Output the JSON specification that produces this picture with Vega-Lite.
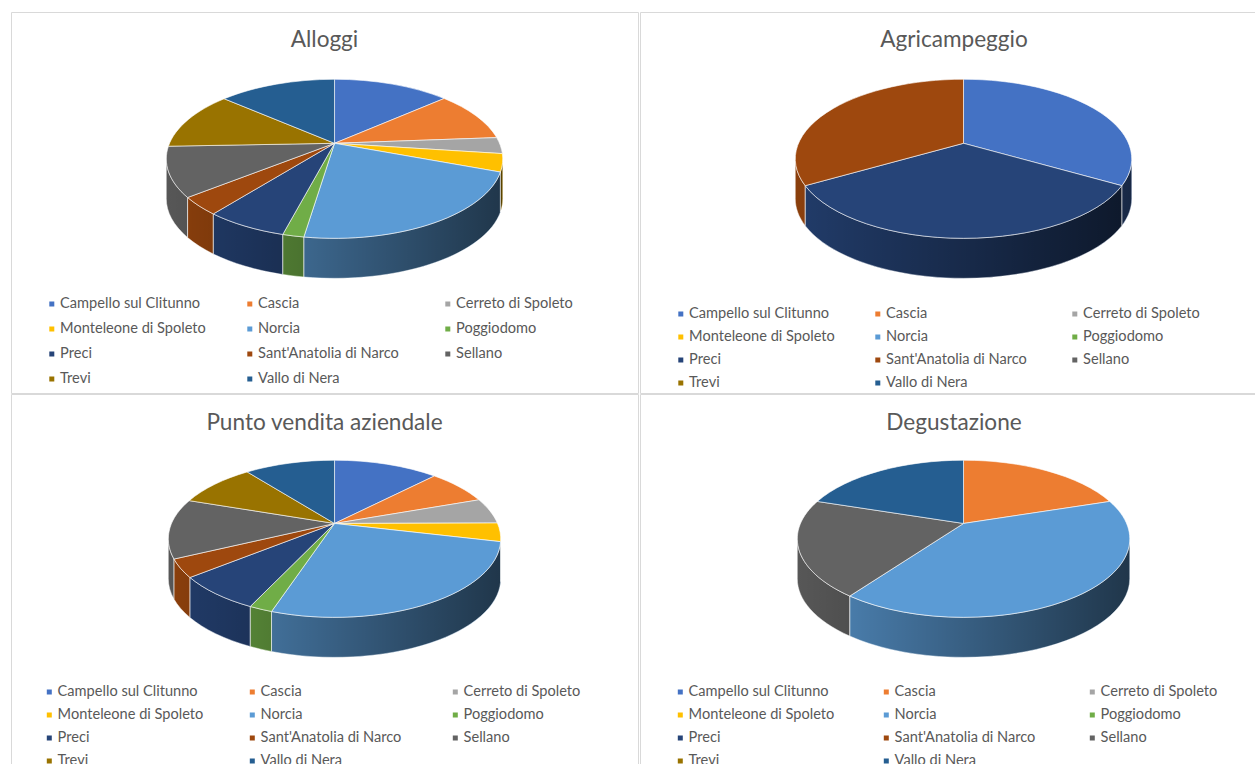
{
"$schema":"https://vega.github.io/schema/vega-lite/v6.json",
"background":"white",
"padding":{"left":10,"top":11,"right":0,"bottom":0},
"config":{
 "font":"Lato",
 "view":{"stroke":"#d9d9d9","strokeWidth":1},
 "title":{"fontSize":22.6,"fontWeight":"normal","color":"#595959","anchor":"middle","offset":-40,"frame":"group"},
 "legend":{"symbolType":"square","symbolSize":25,"labelFontSize":14.6,"labelColor":"#595959","labelLimit":300,"labelOffset":1,"gridAlign":"all","columns":3,"direction":"horizontal","title":null,"symbolStrokeWidth":0,"clipHeight":14}
},
"data":{"values":[
{"panel":"Alloggi","comune":"Campello sul Clitunno","value":13.5},
{"panel":"Alloggi","comune":"Cascia","value":10.3},
{"panel":"Alloggi","comune":"Cerreto di Spoleto","value":3.3},
{"panel":"Alloggi","comune":"Monteleone di Spoleto","value":3.6},
{"panel":"Alloggi","comune":"Norcia","value":21.7},
{"panel":"Alloggi","comune":"Poggiodomo","value":1.7},
{"panel":"Alloggi","comune":"Preci","value":6.6},
{"panel":"Alloggi","comune":"Sant'Anatolia di Narco","value":3.6},
{"panel":"Alloggi","comune":"Sellano","value":10.1},
{"panel":"Alloggi","comune":"Trevi","value":12.0},
{"panel":"Alloggi","comune":"Vallo di Nera","value":13.6},
{"panel":"Agricampeggio","comune":"Campello sul Clitunno","value":1},
{"panel":"Agricampeggio","comune":"Preci","value":1},
{"panel":"Agricampeggio","comune":"Sant'Anatolia di Narco","value":1},
{"panel":"Punto vendita aziendale","comune":"Campello sul Clitunno","value":12.3},
{"panel":"Punto vendita aziendale","comune":"Cascia","value":7.3},
{"panel":"Punto vendita aziendale","comune":"Cerreto di Spoleto","value":5.3},
{"panel":"Punto vendita aziendale","comune":"Monteleone di Spoleto","value":3.8},
{"panel":"Punto vendita aziendale","comune":"Norcia","value":26.4},
{"panel":"Punto vendita aziendale","comune":"Poggiodomo","value":1.9},
{"panel":"Punto vendita aziendale","comune":"Preci","value":7.2},
{"panel":"Punto vendita aziendale","comune":"Sant'Anatolia di Narco","value":3.7},
{"panel":"Punto vendita aziendale","comune":"Sellano","value":12.3},
{"panel":"Punto vendita aziendale","comune":"Trevi","value":9.2},
{"panel":"Punto vendita aziendale","comune":"Vallo di Nera","value":10.6},
{"panel":"Degustazione","comune":"Cascia","value":1},
{"panel":"Degustazione","comune":"Norcia","value":2},
{"panel":"Degustazione","comune":"Sellano","value":1},
{"panel":"Degustazione","comune":"Vallo di Nera","value":1}
]},
"transform":[
{"window":[{"op":"sum","field":"value","as":"cum"}],"groupby":["panel"],"frame":[null,0]},
{"joinaggregate":[{"op":"sum","field":"value","as":"total"}],"groupby":["panel"]},
{"calculate":"(datum.panel=='Alloggi'||datum.panel=='Agricampeggio')?1:0.988","as":"s"},
{"calculate":"2*PI*(datum.cum-datum.value)/datum.total","as":"a"},
{"calculate":"2*PI*datum.cum/datum.total","as":"b"},
{"calculate":"(datum.a+datum.b)/2","as":"m"},
{"calculate":"round(100*datum.s*165*sin(datum.a)/(1+0.195*cos(datum.a)))/100","as":"ax"},
{"calculate":"round(-100*datum.s*76.5*cos(datum.a)/(1+0.195*cos(datum.a)))/100","as":"ay"},
{"calculate":"round(100*datum.s*165*sin(datum.m)/(1+0.195*cos(datum.m)))/100","as":"mx"},
{"calculate":"round(-100*datum.s*76.5*cos(datum.m)/(1+0.195*cos(datum.m)))/100","as":"my"},
{"calculate":"round(100*datum.s*165*sin(datum.b)/(1+0.195*cos(datum.b)))/100","as":"bx"},
{"calculate":"round(-100*datum.s*76.5*cos(datum.b)/(1+0.195*cos(datum.b)))/100","as":"by"},
{"calculate":"round(1682*datum.s)/10+','+round(795*datum.s)/10+' 0 0 '","as":"r"},
{"calculate":"'M0,0L'+datum.ax+','+datum.ay+'A'+datum.r+'1 '+datum.mx+','+datum.my+'A'+datum.r+'1 '+datum.bx+','+datum.by+'Z'","as":"topPath"},
{"calculate":"max(datum.a,1.767)","as":"ca"},
{"calculate":"min(datum.b,4.5162)","as":"cb"},
{"calculate":"(datum.ca+datum.cb)/2","as":"cm"},
{"calculate":"round(100*datum.s*165*sin(datum.ca)/(1+0.195*cos(datum.ca)))/100","as":"cax"},
{"calculate":"round(-100*datum.s*76.5*cos(datum.ca)/(1+0.195*cos(datum.ca)))/100","as":"cay"},
{"calculate":"round(100*datum.s*165*sin(datum.cm)/(1+0.195*cos(datum.cm)))/100","as":"cmx"},
{"calculate":"round(-100*datum.s*76.5*cos(datum.cm)/(1+0.195*cos(datum.cm)))/100","as":"cmy"},
{"calculate":"round(100*datum.s*165*sin(datum.cb)/(1+0.195*cos(datum.cb)))/100","as":"cbx"},
{"calculate":"round(-100*datum.s*76.5*cos(datum.cb)/(1+0.195*cos(datum.cb)))/100","as":"cby"},
{"calculate":"round(40*datum.s)","as":"d"},
{"calculate":"datum.ca<datum.cb?'M'+datum.cax+','+datum.cay+'A'+datum.r+'1 '+datum.cmx+','+datum.cmy+'A'+datum.r+'1 '+datum.cbx+','+datum.cby+'L'+datum.cbx+','+(datum.cby+datum.d)+'A'+datum.r+'0 '+datum.cmx+','+(datum.cmy+datum.d)+'A'+datum.r+'0 '+datum.cax+','+(datum.cay+datum.d)+'Z':''","as":"sidePath"},
{"calculate":"round(1682*datum.s)/10","as":"ex"},
{"calculate":"round(155*datum.s)/10","as":"ey"},
{"calculate":"round(950*datum.s)/10","as":"eb"},
{"calculate":"'M'+datum.ex+','+datum.ey+'A'+datum.r+'1 0,'+datum.eb+'A'+datum.r+'1 -'+datum.ex+','+datum.ey+'L-'+datum.ex+','+(datum.ey+datum.d)+'A'+datum.r+'0 0,'+(datum.eb+datum.d)+'A'+datum.r+'0 '+datum.ex+','+(datum.ey+datum.d)+'Z'","as":"bandPath"}
],
"columns":2,
"spacing":{"row":-2,"column":0},
"resolve":{"scale":{"color":"independent","x":"independent","y":"independent"}},
"concat":[
{"title":"Alloggi","width":627,"height":381,
 "transform":[{"filter":"datum.panel=='Alloggi'"}],
 "encoding":{"x":{"datum":0.516,"type":"quantitative","scale":{"domain":[0,1]},"axis":null},"y":{"datum":0.6554,"type":"quantitative","scale":{"domain":[0,1]},"axis":null}},
 "layer":[
 {"transform":[{"filter":"datum.sidePath!=''"}],"mark":{"type":"point","filled":true,"opacity":1,"size":4},"encoding":{"shape":{"field":"sidePath","type":"nominal","scale":null},"color":{"field":"comune","type":"nominal","scale":{"domain":["Campello sul Clitunno","Cascia","Cerreto di Spoleto","Monteleone di Spoleto","Norcia","Poggiodomo","Preci","Sant'Anatolia di Narco","Sellano","Trevi","Vallo di Nera"],"range":["#4472C4","#ED7D31","#A5A5A5","#FFC000","#5B9BD5","#70AD47","#264478","#9E480E","#636363","#997300","#255E91"]},"legend":{"orient":"none","legendX":33.5,"legendY":285,"rowPadding":10,"columnPadding":36}}}},
 {"transform":[{"filter":"datum.cum==datum.value"}],"mark":{"type":"point","filled":true,"opacity":1,"size":4,"fill":{"gradient":"linear","x1":0,"y1":0,"x2":1,"y2":0,"stops":[{"offset":0,"color":"rgba(0,0,0,0.12)"},{"offset":1,"color":"rgba(0,0,0,0.65)"}]}},"encoding":{"shape":{"field":"bandPath","type":"nominal","scale":null}}},
 {"transform":[{"filter":"datum.sidePath!=''"}],"mark":{"type":"point","filled":false,"opacity":1,"size":4,"stroke":"#ffffff","strokeOpacity":0.45,"strokeWidth":1},"encoding":{"shape":{"field":"sidePath","type":"nominal","scale":null}}},
 {"mark":{"type":"point","filled":true,"opacity":1,"size":4,"stroke":"#ffffff","strokeOpacity":0.6,"strokeWidth":1},"encoding":{"shape":{"field":"topPath","type":"nominal","scale":null},"color":{"field":"comune","type":"nominal","scale":{"domain":["Campello sul Clitunno","Cascia","Cerreto di Spoleto","Monteleone di Spoleto","Norcia","Poggiodomo","Preci","Sant'Anatolia di Narco","Sellano","Trevi","Vallo di Nera"],"range":["#4472C4","#ED7D31","#A5A5A5","#FFC000","#5B9BD5","#70AD47","#264478","#9E480E","#636363","#997300","#255E91"]}}}}
 ]},
{"title":{"text":"Agricampeggio","dx":6},"width":616,"height":381,
 "transform":[{"filter":"datum.panel=='Agricampeggio'"}],
 "encoding":{"x":{"datum":0.5252,"type":"quantitative","scale":{"domain":[0,1]},"axis":null},"y":{"datum":0.6554,"type":"quantitative","scale":{"domain":[0,1]},"axis":null}},
 "layer":[
 {"transform":[{"filter":"datum.sidePath!=''"}],"mark":{"type":"point","filled":true,"opacity":1,"size":4},"encoding":{"shape":{"field":"sidePath","type":"nominal","scale":null},"color":{"field":"comune","type":"nominal","scale":{"domain":["Campello sul Clitunno","Cascia","Cerreto di Spoleto","Monteleone di Spoleto","Norcia","Poggiodomo","Preci","Sant'Anatolia di Narco","Sellano","Trevi","Vallo di Nera"],"range":["#4472C4","#ED7D31","#A5A5A5","#FFC000","#5B9BD5","#70AD47","#264478","#9E480E","#636363","#997300","#255E91"]},"legend":{"orient":"none","legendX":33.5,"legendY":295,"rowPadding":8,"columnPadding":35}}}},
 {"transform":[{"filter":"datum.cum==datum.value"}],"mark":{"type":"point","filled":true,"opacity":1,"size":4,"fill":{"gradient":"linear","x1":0,"y1":0,"x2":1,"y2":0,"stops":[{"offset":0,"color":"rgba(0,0,0,0.12)"},{"offset":1,"color":"rgba(0,0,0,0.65)"}]}},"encoding":{"shape":{"field":"bandPath","type":"nominal","scale":null}}},
 {"transform":[{"filter":"datum.sidePath!=''"}],"mark":{"type":"point","filled":false,"opacity":1,"size":4,"stroke":"#ffffff","strokeOpacity":0.45,"strokeWidth":1},"encoding":{"shape":{"field":"sidePath","type":"nominal","scale":null}}},
 {"mark":{"type":"point","filled":true,"opacity":1,"size":4,"stroke":"#ffffff","strokeOpacity":0.6,"strokeWidth":1},"encoding":{"shape":{"field":"topPath","type":"nominal","scale":null},"color":{"field":"comune","type":"nominal","scale":{"domain":["Campello sul Clitunno","Cascia","Cerreto di Spoleto","Monteleone di Spoleto","Norcia","Poggiodomo","Preci","Sant'Anatolia di Narco","Sellano","Trevi","Vallo di Nera"],"range":["#4472C4","#ED7D31","#A5A5A5","#FFC000","#5B9BD5","#70AD47","#264478","#9E480E","#636363","#997300","#255E91"]}}}}
 ]},
{"title":{"text":"Punto vendita aziendale","offset":-41},"width":627,"height":372,
 "transform":[{"filter":"datum.panel=='Punto vendita aziendale'"}],
 "encoding":{"x":{"datum":0.516,"type":"quantitative","scale":{"domain":[0,1]},"axis":null},"y":{"datum":0.652,"type":"quantitative","scale":{"domain":[0,1]},"axis":null}},
 "layer":[
 {"transform":[{"filter":"datum.sidePath!=''"}],"mark":{"type":"point","filled":true,"opacity":1,"size":4},"encoding":{"shape":{"field":"sidePath","type":"nominal","scale":null},"color":{"field":"comune","type":"nominal","scale":{"domain":["Campello sul Clitunno","Cascia","Cerreto di Spoleto","Monteleone di Spoleto","Norcia","Poggiodomo","Preci","Sant'Anatolia di Narco","Sellano","Trevi","Vallo di Nera"],"range":["#4472C4","#ED7D31","#A5A5A5","#FFC000","#5B9BD5","#70AD47","#264478","#9E480E","#636363","#997300","#255E91"]},"legend":{"orient":"none","legendX":31,"legendY":291,"rowPadding":8,"columnPadding":41}}}},
 {"transform":[{"filter":"datum.cum==datum.value"}],"mark":{"type":"point","filled":true,"opacity":1,"size":4,"fill":{"gradient":"linear","x1":0,"y1":0,"x2":1,"y2":0,"stops":[{"offset":0,"color":"rgba(0,0,0,0.12)"},{"offset":1,"color":"rgba(0,0,0,0.65)"}]}},"encoding":{"shape":{"field":"bandPath","type":"nominal","scale":null}}},
 {"transform":[{"filter":"datum.sidePath!=''"}],"mark":{"type":"point","filled":false,"opacity":1,"size":4,"stroke":"#ffffff","strokeOpacity":0.45,"strokeWidth":1},"encoding":{"shape":{"field":"sidePath","type":"nominal","scale":null}}},
 {"mark":{"type":"point","filled":true,"opacity":1,"size":4,"stroke":"#ffffff","strokeOpacity":0.6,"strokeWidth":1},"encoding":{"shape":{"field":"topPath","type":"nominal","scale":null},"color":{"field":"comune","type":"nominal","scale":{"domain":["Campello sul Clitunno","Cascia","Cerreto di Spoleto","Monteleone di Spoleto","Norcia","Poggiodomo","Preci","Sant'Anatolia di Narco","Sellano","Trevi","Vallo di Nera"],"range":["#4472C4","#ED7D31","#A5A5A5","#FFC000","#5B9BD5","#70AD47","#264478","#9E480E","#636363","#997300","#255E91"]}}}}
 ]},
{"title":{"text":"Degustazione","dx":6,"offset":-41},"width":616,"height":372,
 "transform":[{"filter":"datum.panel=='Degustazione'"}],
 "encoding":{"x":{"datum":0.5252,"type":"quantitative","scale":{"domain":[0,1]},"axis":null},"y":{"datum":0.652,"type":"quantitative","scale":{"domain":[0,1]},"axis":null}},
 "layer":[
 {"transform":[{"filter":"datum.sidePath!=''"}],"mark":{"type":"point","filled":true,"opacity":1,"size":4},"encoding":{"shape":{"field":"sidePath","type":"nominal","scale":null},"color":{"field":"comune","type":"nominal","scale":{"domain":["Campello sul Clitunno","Cascia","Cerreto di Spoleto","Monteleone di Spoleto","Norcia","Poggiodomo","Preci","Sant'Anatolia di Narco","Sellano","Trevi","Vallo di Nera"],"range":["#4472C4","#ED7D31","#A5A5A5","#FFC000","#5B9BD5","#70AD47","#264478","#9E480E","#636363","#997300","#255E91"]},"legend":{"orient":"none","legendX":33,"legendY":291,"rowPadding":8,"columnPadding":44}}}},
 {"transform":[{"filter":"datum.cum==datum.value"}],"mark":{"type":"point","filled":true,"opacity":1,"size":4,"fill":{"gradient":"linear","x1":0,"y1":0,"x2":1,"y2":0,"stops":[{"offset":0,"color":"rgba(0,0,0,0.12)"},{"offset":1,"color":"rgba(0,0,0,0.65)"}]}},"encoding":{"shape":{"field":"bandPath","type":"nominal","scale":null}}},
 {"transform":[{"filter":"datum.sidePath!=''"}],"mark":{"type":"point","filled":false,"opacity":1,"size":4,"stroke":"#ffffff","strokeOpacity":0.45,"strokeWidth":1},"encoding":{"shape":{"field":"sidePath","type":"nominal","scale":null}}},
 {"mark":{"type":"point","filled":true,"opacity":1,"size":4,"stroke":"#ffffff","strokeOpacity":0.6,"strokeWidth":1},"encoding":{"shape":{"field":"topPath","type":"nominal","scale":null},"color":{"field":"comune","type":"nominal","scale":{"domain":["Campello sul Clitunno","Cascia","Cerreto di Spoleto","Monteleone di Spoleto","Norcia","Poggiodomo","Preci","Sant'Anatolia di Narco","Sellano","Trevi","Vallo di Nera"],"range":["#4472C4","#ED7D31","#A5A5A5","#FFC000","#5B9BD5","#70AD47","#264478","#9E480E","#636363","#997300","#255E91"]}}}}
 ]}
]
}
